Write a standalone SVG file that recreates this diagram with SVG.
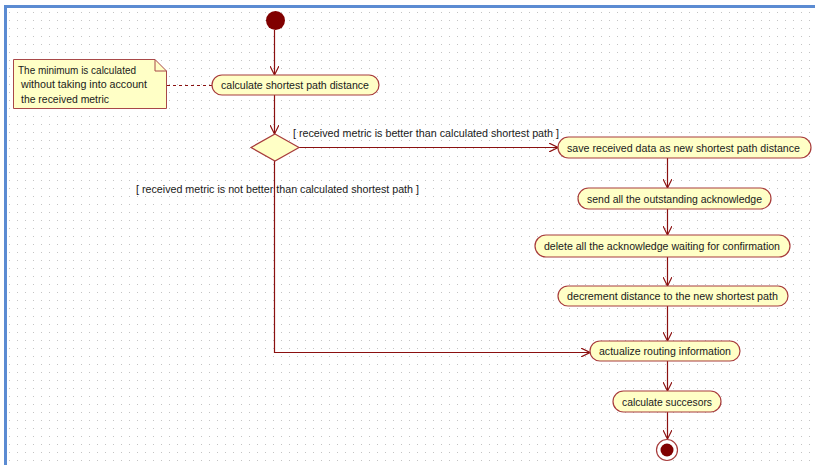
<svg xmlns="http://www.w3.org/2000/svg" width="815" height="465" viewBox="0 0 815 465">
<style>
.act{fill:#ffffc6;stroke:#a83c3c;stroke-width:1.2}
.lbl{font-family:"Liberation Sans",Arial,sans-serif;font-size:11.5px;fill:#1a1a1a;text-anchor:start}
.sm{font-size:10.5px}
.conn{fill:none;stroke:#8b1010;stroke-width:1.2}
</style>
<defs>
<pattern id="grid" x="0" y="0" width="8" height="8" patternUnits="userSpaceOnUse">
<rect x="1" y="4" width="1" height="1" fill="#c4c4c4"/>
</pattern>
<marker id="arr" viewBox="0 0 10 10" refX="10" refY="5" markerWidth="9" markerHeight="9" markerUnits="userSpaceOnUse" orient="auto">
<path d="M0,0 L10,5 L0,10" fill="none" stroke="#8b1010" stroke-width="1.3"/>
</marker>
</defs>
<rect x="0" y="0" width="815" height="465" fill="#ffffff"/>
<rect x="7" y="8" width="808" height="457" fill="url(#grid)"/>
<path d="M5.5,465 L5.5,6.5 L815,6.5" fill="none" stroke="#5b8bd2" stroke-width="3"/>

<g id="connectors">
<line class="conn" x1="274.5" y1="30" x2="274.5" y2="75" marker-end="url(#arr)"/>
<line class="conn" x1="274.5" y1="95" x2="274.5" y2="134" marker-end="url(#arr)"/>
<line class="conn" x1="299" y1="147.5" x2="558" y2="147.5" marker-end="url(#arr)"/>
<path class="conn" d="M274.5,161 L274.5,352.5 L590,352.5" marker-end="url(#arr)"/>
<line class="conn" x1="667.5" y1="158" x2="667.5" y2="188" marker-end="url(#arr)"/>
<line class="conn" x1="667.5" y1="209" x2="667.5" y2="235" marker-end="url(#arr)"/>
<line class="conn" x1="667.5" y1="257" x2="667.5" y2="286" marker-end="url(#arr)"/>
<line class="conn" x1="667.5" y1="306" x2="667.5" y2="341" marker-end="url(#arr)"/>
<line class="conn" x1="667.5" y1="361" x2="667.5" y2="391" marker-end="url(#arr)"/>
<line class="conn" x1="667.5" y1="412" x2="667.5" y2="439" marker-end="url(#arr)"/>
<line x1="167" y1="85.5" x2="212" y2="85.5" stroke="#8b1010" stroke-width="1" stroke-dasharray="3,3"/>
<text class="lbl" x="293" y="137" textLength="266" lengthAdjust="spacingAndGlyphs">[ received metric is better than calculated shortest path ]</text>
<text class="lbl" x="136" y="193" textLength="283" lengthAdjust="spacingAndGlyphs">[ received metric is not better than calculated shortest path ]</text>
</g>

<g id="start">
<circle cx="275.5" cy="20.5" r="9.5" fill="#800000"/>
</g>

<g id="note">
<path d="M13.5,59.5 L155,59.5 L166.5,71 L166.5,108.5 L13.5,108.5 Z" fill="#ffffc6" stroke="#a84848" stroke-width="1"/>
<path d="M155,59.5 L155,71 L166.5,71" fill="none" stroke="#a84848" stroke-width="1"/>
<text class="lbl" x="18" y="74" textLength="118" lengthAdjust="spacingAndGlyphs">The minimum is calculated</text>
<text class="lbl" x="21" y="88" textLength="126" lengthAdjust="spacingAndGlyphs">without taking into account</text>
<text class="lbl" x="21" y="103" textLength="88" lengthAdjust="spacingAndGlyphs">the received metric</text>
</g>

<g id="calc-shortest">
<rect class="act" x="212" y="75" width="167" height="20" rx="10"/>
<text class="lbl" x="221" y="89" textLength="148" lengthAdjust="spacingAndGlyphs">calculate shortest path distance</text>
</g>

<g id="decision">
<path d="M275,134 L299,147.5 L275,161 L251,147.5 Z" fill="#ffffc6" stroke="#a83c3c" stroke-width="1.2"/>
</g>

<g id="save">
<rect class="act" x="558" y="137" width="253" height="21" rx="10.5"/>
<text class="lbl sm" x="567" y="151.5" textLength="233" lengthAdjust="spacingAndGlyphs">save received data as new shortest path distance</text>
</g>

<g id="send">
<rect class="act" x="578" y="188" width="193" height="21" rx="10.5"/>
<text class="lbl" x="587" y="202.5" textLength="175" lengthAdjust="spacingAndGlyphs">send all the outstanding acknowledge</text>
</g>

<g id="delete">
<rect class="act" x="535" y="235" width="255" height="22" rx="11"/>
<text class="lbl" x="544" y="250" textLength="236" lengthAdjust="spacingAndGlyphs">delete all the acknowledge waiting for confirmation</text>
</g>

<g id="decrement">
<rect class="act" x="558" y="286" width="230" height="20" rx="10"/>
<text class="lbl" x="567" y="300" textLength="211" lengthAdjust="spacingAndGlyphs">decrement distance to the new shortest path</text>
</g>

<g id="actualize">
<rect class="act" x="590" y="341" width="150" height="20" rx="10"/>
<text class="lbl" x="599" y="355" textLength="132" lengthAdjust="spacingAndGlyphs">actualize routing information</text>
</g>

<g id="succesors">
<rect class="act" x="613" y="391" width="108" height="21" rx="10.5"/>
<text class="lbl" x="622" y="405.5" textLength="90" lengthAdjust="spacingAndGlyphs">calculate succesors</text>
</g>

<g id="end">
<circle cx="667" cy="450" r="10.5" fill="#ffffff" stroke="#a83c3c" stroke-width="1.2"/>
<circle cx="667" cy="450" r="6.5" fill="#800000"/>
</g>
</svg>
